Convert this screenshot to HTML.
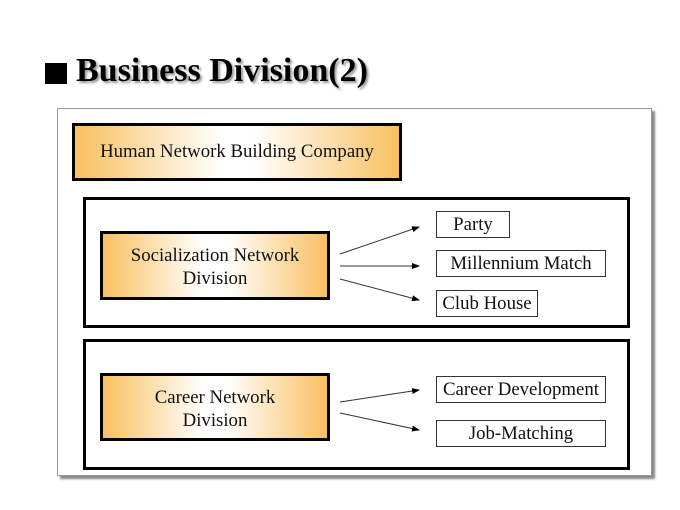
<!DOCTYPE html>
<html><head><meta charset="utf-8"><style>
body{margin:0;width:680px;height:510px;background:#fff;position:relative;overflow:hidden;font-family:"Liberation Serif",serif}
.a{position:absolute;box-sizing:border-box}
.g{background:linear-gradient(90deg,#f9c060 0%,#fff 45%,#fff 55%,#f9c060 100%);border:3px solid #000;text-align:center;font-size:18.8px;color:#111;white-space:nowrap}
.c{border:3px solid #000;background:#fff}
.s{border:1px solid #333;background:#fff;font-size:18.8px;text-align:center;line-height:25px;color:#111;white-space:nowrap}
</style></head><body>
<div class="a" style="left:45px;top:63px;width:22px;height:21px;background:#000"></div>
<div class="a" style="left:76px;top:52px;font-size:34px;font-weight:bold;text-shadow:2px 2px 2px #999;white-space:nowrap">Business Division(2)</div>
<div class="a" style="left:57px;top:108px;width:595px;height:368px;border:1px solid #999;box-shadow:3px 3px 2px #888;background:#fff"></div>
<div class="a g" style="left:72px;top:123px;width:330px;height:58px;line-height:52px">Human Network Building Company</div>
<div class="a c" style="left:83px;top:197px;width:547px;height:131px"></div>
<div class="a c" style="left:83px;top:339px;width:547px;height:131px"></div>
<div class="a g" style="left:100px;top:231px;width:230px;height:69px;padding-top:10px;line-height:23px">Socialization Network<br>Division</div>
<div class="a g" style="left:100px;top:373px;width:230px;height:68px;padding-top:10px;line-height:23px">Career Network<br>Division</div>
<div class="a s" style="left:436px;top:211px;width:74px;height:27px">Party</div>
<div class="a s" style="left:436px;top:250px;width:170px;height:27px">Millennium Match</div>
<div class="a s" style="left:436px;top:290px;width:102px;height:27px">Club House</div>
<div class="a s" style="left:436px;top:376px;width:170px;height:27px">Career Development</div>
<div class="a s" style="left:436px;top:420px;width:170px;height:27px">Job-Matching</div>
<svg class="a" style="left:0;top:0" width="680" height="510">
<defs><marker id="m" markerWidth="8" markerHeight="6" refX="7" refY="3" orient="auto"><path d="M0,0L8,3L0,6z" fill="#000"/></marker></defs>
<g stroke="#333" stroke-width="1" marker-end="url(#m)">
<line x1="340" y1="254" x2="419" y2="227"/>
<line x1="340" y1="266" x2="419" y2="266"/>
<line x1="340" y1="279" x2="419" y2="300"/>
<line x1="340" y1="402" x2="419" y2="390"/>
<line x1="340" y1="413" x2="419" y2="430"/>
</g></svg>
</body></html>
